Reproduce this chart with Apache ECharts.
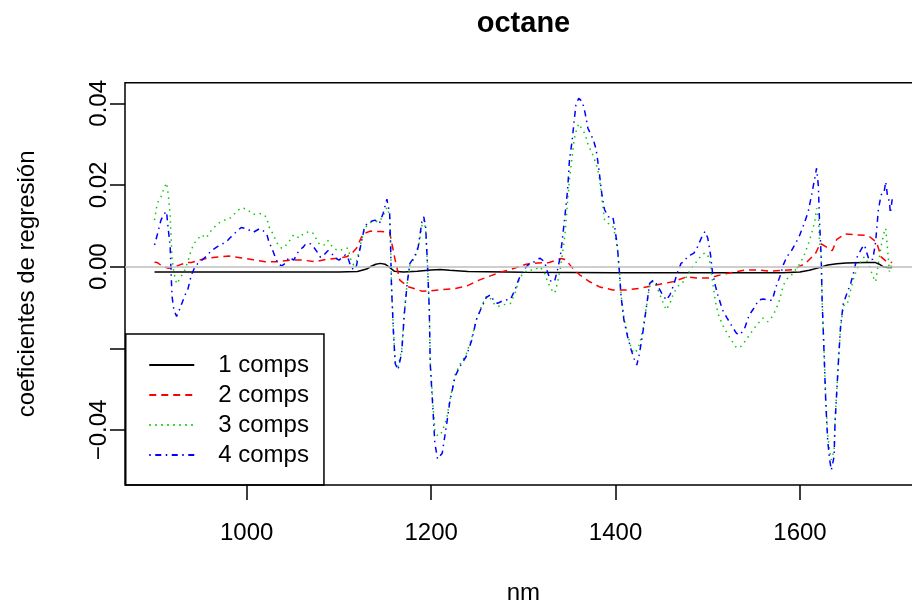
<!DOCTYPE html>
<html><head><meta charset="utf-8">
<script src="https://cdn.jsdelivr.net/npm/echarts@6/dist/echarts.min.js"></script>
<style>html,body{margin:0;padding:0;background:#fff}#c{width:912px;height:602px}</style>
</head><body><div id="c"></div>
<script>
// ---- data ----
const seriesNames = ['1 comps', '2 comps', '3 comps', '4 comps'];
const xTicks = [1000, 1200, 1400, 1600];
const yTicks = [-0.04, -0.02, 0, 0.02, 0.04];
const yTickLabels = [-0.04, 0, 0.02, 0.04];

const wl1 = [900,950,1000,1050,1100,1120,1130,1135,1140,1145,
  1150,1155,1160,1170,1185,1200,1210,1220,1240,1300,
  1400,1500,1580,1600,1610,1620,1630,1640,1650,1670,
  1682,1686,1690,1695,1700];
const comp1 = [-0.0013,-0.0013,-0.0013,-0.0013,-0.0013,-0.0012,-0.0006,0.0001,0.0006,0.0008,
  0.0006,-0.0002,-0.0011,-0.0013,-0.0011,-0.0008,-0.0007,-0.0009,-0.0012,-0.0014,
  -0.0015,-0.0015,-0.0015,-0.0013,-0.0009,-0.0003,0.0004,0.0007,0.0009,0.0010,
  0.0010,0.0006,0.0000,-0.0002,-0.0002];

const wl2 = [900,903,908,915,922,928,935,940,953,966,
  981,993,1007,1020,1034,1047,1061,1074,1087,1100,
  1108,1113,1119,1126,1134,1145,1155,1158,1161,1166,
  1175,1190,1200,1213,1225,1239,1252,1265,1278,1290,
  1303,1316,1328,1341,1346,1352,1361,1372,1383,1397,
  1412,1426,1444,1462,1477,1488,1502,1514,1527,1541,
  1554,1568,1582,1593,1606,1617,1622,1628,1635,1640,
  1649,1661,1674,1683,1688,1694,1700];
const comp2 = [0.0011,0.0010,0.0002,-0.0004,-0.0001,0.0005,0.0010,0.0010,0.0019,0.0023,
  0.0026,0.0022,0.0017,0.0012,0.0012,0.0016,0.0016,0.0012,0.0018,0.0021,
  0.0024,0.0030,0.0045,0.0080,0.0087,0.0086,0.0084,0.0050,0.0016,-0.0033,
  -0.0049,-0.0060,-0.0059,-0.0056,-0.0054,-0.0047,-0.0033,-0.0022,-0.0012,-0.0004,
  0.0006,0.0009,0.0010,0.0020,0.0017,0.0000,-0.0020,-0.0037,-0.0050,-0.0057,
  -0.0057,-0.0053,-0.0045,-0.0037,-0.0025,-0.0028,-0.0028,-0.0020,-0.0014,-0.0008,
  -0.0008,-0.0011,-0.0009,-0.0007,0.0008,0.0033,0.0057,0.0049,0.0039,0.0067,
  0.0080,0.0078,0.0076,0.0060,0.0024,0.0012,0.0010];

const wl34 = [900,903,907,910,913,915,917,918,919,921,
  924,928,933,936,940,943,947,951,956,962,
  969,978,983,989,994,1000,1007,1014,1019,1022,
  1024,1028,1031,1034,1038,1041,1046,1051,1057,1061,
  1064,1069,1073,1077,1080,1084,1088,1092,1095,1100,
  1104,1107,1110,1113,1116,1119,1123,1128,1134,1139,
  1144,1148,1152,1155,1156,1157,1159,1161,1164,1168,
  1171,1174,1177,1182,1186,1190,1192,1194,1196,1198,
  1199,1202,1204,1207,1212,1217,1220,1226,1231,1238,
  1244,1249,1255,1260,1264,1268,1272,1279,1286,1291,
  1295,1299,1305,1312,1318,1323,1326,1330,1334,1337,
  1340,1342,1345,1348,1350,1353,1355,1357,1360,1364,
  1367,1370,1376,1379,1382,1385,1388,1392,1397,1399,
  1402,1404,1406,1409,1413,1417,1420,1423,1426,1430,
  1434,1437,1441,1444,1450,1455,1459,1463,1467,1471,
  1474,1478,1481,1485,1489,1493,1497,1500,1503,1505,
  1508,1511,1516,1521,1526,1531,1535,1540,1545,1550,
  1555,1560,1565,1570,1574,1578,1582,1586,1591,1599,
  1604,1609,1613,1616,1618,1620,1621,1623,1624,1626,
  1628,1630,1632,1634,1637,1638,1640,1642,1644,1647,
  1651,1655,1658,1662,1667,1670,1672,1675,1679,1682,
  1685,1688,1691,1693,1695,1697,1698,1700];
const comp3 = [0.0114,0.0155,0.0171,0.0190,0.0205,0.0176,0.0125,0.0073,0.0021,-0.0015,
  -0.0042,-0.0028,-0.0008,0.0012,0.0041,0.0057,0.0068,0.0078,0.0070,0.0090,
  0.0106,0.0116,0.0120,0.0135,0.0144,0.0141,0.0128,0.0130,0.0127,0.0118,
  0.0098,0.0082,0.0068,0.0053,0.0045,0.0048,0.0062,0.0078,0.0070,0.0080,
  0.0084,0.0086,0.0080,0.0060,0.0053,0.0053,0.0064,0.0051,0.0044,0.0039,
  0.0042,0.0045,0.0045,0.0016,0.0004,0.0012,0.0050,0.0095,0.0108,0.0111,
  0.0110,0.0125,0.0145,0.0125,0.0060,-0.0045,-0.0150,-0.0232,-0.0245,-0.0205,
  -0.0110,-0.0040,0.0005,0.0020,0.0045,0.0100,0.0114,0.0092,0.0005,-0.0100,
  -0.0230,-0.0340,-0.0400,-0.0415,-0.0405,-0.0370,-0.0330,-0.0265,-0.0240,-0.0215,
  -0.0175,-0.0130,-0.0095,-0.0072,-0.0077,-0.0090,-0.0098,-0.0093,-0.0090,-0.0065,
  -0.0035,-0.0018,-0.0008,-0.0008,0.0000,-0.0015,-0.0035,-0.0055,-0.0065,-0.0040,
  -0.0005,0.0025,0.0075,0.0160,0.0215,0.0270,0.0310,0.0330,0.0350,0.0335,
  0.0325,0.0300,0.0270,0.0250,0.0225,0.0171,0.0115,0.0106,0.0100,0.0082,
  0.0045,-0.0010,-0.0070,-0.0125,-0.0165,-0.0200,-0.0212,-0.0205,-0.0190,-0.0150,
  -0.0090,-0.0045,-0.0035,-0.0045,-0.0080,-0.0106,-0.0090,-0.0065,-0.0050,-0.0040,
  -0.0037,-0.0020,-0.0008,0.0005,0.0015,0.0028,0.0034,0.0028,0.0005,-0.0033,
  -0.0082,-0.0114,-0.0143,-0.0163,-0.0182,-0.0198,-0.0198,-0.0184,-0.0168,-0.0152,
  -0.0138,-0.0126,-0.0135,-0.0122,-0.0105,-0.0080,-0.0045,-0.0030,-0.0020,0.0004,
  0.0025,0.0055,0.0085,0.0110,0.0143,0.0122,0.0070,0.0020,-0.0080,-0.0200,
  -0.0325,-0.0410,-0.0450,-0.0473,-0.0450,-0.0380,-0.0300,-0.0220,-0.0150,-0.0095,
  -0.0094,-0.0057,-0.0030,-0.0005,0.0018,0.0024,0.0020,0.0004,-0.0024,-0.0037,
  0.0008,0.0050,0.0082,0.0094,0.0041,-0.0012,-0.0005,0.0008];
const comp4 = [0.0053,0.0078,0.0114,0.0128,0.0135,0.0090,0.0049,-0.0016,-0.0073,-0.0106,
  -0.0122,-0.0100,-0.0070,-0.0057,-0.0020,-0.0005,0.0008,0.0015,0.0025,0.0040,
  0.0050,0.0061,0.0073,0.0086,0.0096,0.0093,0.0084,0.0093,0.0086,0.0078,
  0.0061,0.0041,0.0023,0.0007,0.0002,0.0007,0.0023,0.0016,0.0041,0.0047,
  0.0056,0.0056,0.0047,0.0034,0.0023,0.0029,0.0039,0.0033,0.0023,0.0016,
  0.0023,0.0029,0.0020,0.0000,-0.0008,0.0002,0.0045,0.0100,0.0110,0.0114,
  0.0106,0.0131,0.0165,0.0131,0.0057,-0.0049,-0.0155,-0.0237,-0.0253,-0.0212,
  -0.0114,-0.0041,0.0008,0.0024,0.0049,0.0110,0.0122,0.0098,0.0008,-0.0106,
  -0.0237,-0.0351,-0.0432,-0.0471,-0.0457,-0.0383,-0.0334,-0.0269,-0.0245,-0.0220,
  -0.0180,-0.0130,-0.0098,-0.0075,-0.0069,-0.0083,-0.0090,-0.0082,-0.0080,-0.0057,
  -0.0031,-0.0012,0.0004,0.0012,0.0021,0.0012,-0.0012,-0.0037,-0.0035,-0.0008,
  0.0024,0.0061,0.0122,0.0188,0.0261,0.0310,0.0355,0.0396,0.0412,0.0404,
  0.0376,0.0339,0.0310,0.0286,0.0237,0.0180,0.0140,0.0122,0.0122,0.0098,
  0.0049,-0.0008,-0.0073,-0.0130,-0.0171,-0.0204,-0.0225,-0.0241,-0.0212,-0.0155,
  -0.0090,-0.0041,-0.0033,-0.0041,-0.0065,-0.0082,-0.0069,-0.0045,-0.0015,0.0008,
  0.0012,0.0024,0.0028,0.0033,0.0049,0.0070,0.0086,0.0070,0.0029,-0.0012,
  -0.0045,-0.0070,-0.0106,-0.0126,-0.0145,-0.0163,-0.0167,-0.0151,-0.0118,-0.0102,
  -0.0082,-0.0079,-0.0082,-0.0082,-0.0049,-0.0026,0.0005,0.0025,0.0040,0.0073,
  0.0102,0.0135,0.0180,0.0216,0.0241,0.0196,0.0122,0.0024,-0.0082,-0.0204,
  -0.0334,-0.0424,-0.0470,-0.0498,-0.0465,-0.0383,-0.0302,-0.0220,-0.0147,-0.0090,
  -0.0065,-0.0041,-0.0016,0.0024,0.0045,0.0053,0.0037,0.0016,0.0018,0.0060,
  0.0139,0.0176,0.0180,0.0208,0.0171,0.0160,0.0131,0.0165];

// ---- chart ----
const FONT = '"Liberation Sans", Arial, Helvetica, sans-serif';
const pairs = (xs, ys) => xs.map((x, i) => [x, ys[i]]);
const fmtY = v => { const s = Math.abs(v).toFixed(2); return v < 0 ? '\u2212' + s : s; };

const chart = echarts.init(document.getElementById('c'), null, { renderer: 'canvas' });

function lineSeries(name, xs, ys, color, type) {
  return {
    name, type: 'line', data: pairs(xs, ys), symbol: 'none', showSymbol: false,
    smooth: false, silent: true, clip: true,
    lineStyle: { color, width: 1.5, type, cap: 'butt' },
    itemStyle: { color },
    emphasis: { disabled: true }
  };
}

chart.setOption({
  animation: false,
  backgroundColor: '#ffffff',
  title: {
    text: 'octane', left: 523.5, top: 9, textAlign: 'center', padding: 0,
    textStyle: { fontFamily: FONT, fontWeight: 'bold', fontSize: 29, color: '#000' }
  },
  grid: {
    left: 125, top: 82.7, width: 796.7, height: 402.3,
    outerBoundsMode: 'none', containLabel: false,
    show: true, borderColor: '#000', borderWidth: 1.5, backgroundColor: 'transparent'
  },
  legend: {
    data: seriesNames, orient: 'vertical', left: 125.75, top: 334,
    padding: [19, 15, 18, 22.5], itemWidth: 45, itemHeight: 12, itemGap: 6,
    borderColor: '#000', borderWidth: 1.5, borderRadius: 0, backgroundColor: 'transparent',
    selectedMode: false,
    itemStyle: { opacity: 0 },
    textStyle: { fontFamily: FONT, fontSize: 24, color: '#000', padding: [0, 0, 0, 19] }
  },
  xAxis: {
    type: 'value', min: 868, max: 1732,
    name: 'nm', nameLocation: 'middle', nameGap: 96,
    nameTextStyle: { fontFamily: FONT, fontSize: 24, color: '#000' },
    axisLine: { show: false, onZero: false }, splitLine: { show: false },
    axisTick: { show: true, inside: false, length: 15, customValues: xTicks,
      lineStyle: { color: '#000', width: 1.5 } },
    axisLabel: { customValues: xTicks, margin: 36, formatter: v => String(v),
      fontFamily: FONT, fontSize: 24, color: '#000' }
  },
  yAxis: {
    type: 'value', min: -0.053468, max: 0.045044,
    name: 'coeficientes de regresión', nameLocation: 'middle', nameGap: 86, nameRotate: 90,
    nameTextStyle: { fontFamily: FONT, fontSize: 24, color: '#000' },
    axisLine: { show: false, onZero: false }, splitLine: { show: false },
    axisTick: { show: true, inside: false, length: 15, customValues: yTicks,
      lineStyle: { color: '#000', width: 1.5 } },
    axisLabel: { customValues: yTickLabels, rotate: 90, margin: 14, formatter: fmtY,
      fontFamily: FONT, fontSize: 24, color: '#000' }
  },
  series: [
    lineSeries(seriesNames[0], wl1, comp1, '#000000', 'solid'),
    lineSeries(seriesNames[1], wl2, comp2, '#FF0000', [7, 5]),
    lineSeries(seriesNames[2], wl34, comp3, '#00CD00', [1.5, 4.5]),
    lineSeries(seriesNames[3], wl34, comp4, '#0000FF', [1.5, 4.5, 6, 4.5]),
    {
      name: 'abline', type: 'line', data: [], silent: true,
      markLine: {
        silent: true, symbol: ['none', 'none'], label: { show: false }, animation: false,
        lineStyle: { color: '#BEBEBE', width: 1.5, type: 'solid' },
        emphasis: { disabled: true },
        data: [{ yAxis: 0 }]
      }
    }
  ]
});
</script>
</body></html>
